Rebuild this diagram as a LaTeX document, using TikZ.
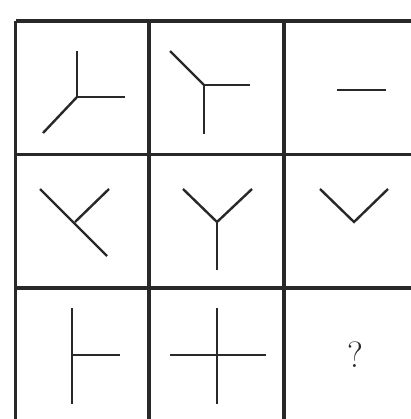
\documentclass[tikz,border=0pt]{standalone}
\usepackage{xcolor}
\usepackage{tikz}
\usetikzlibrary{positioning}
\definecolor{InkGrey}{RGB}{40,40,40}

\begin{document}
\begin{tikzpicture}[
    x=0.025cm, y=-0.025cm,
    gridline/.style={line width=2.2pt, InkGrey},
    stroke/.style={line width=1.7pt, InkGrey, line cap=butt},
    qmark/.style={font=\fontsize{26}{30}\selectfont, inner sep=0pt, InkGrey}
]
\useasboundingbox[fill=white] (0,0) rectangle (411,419);
% grid
\foreach \gx in {15.5,149,284} \draw[gridline] (\gx,21) -- (\gx,419);
\foreach \gy in {21,154.5,288} \draw[gridline] (15.5,\gy) -- (411,\gy);
% row 1
\coordinate (a) at (77,97);
\draw[stroke] (a) -- (77,51); \draw[stroke] (a) -- (125,97); \draw[stroke] (a) -- (43,133);
\coordinate (b) at (204,85);
\draw[stroke] (b) -- (170,51); \draw[stroke] (b) -- (250,85); \draw[stroke] (b) -- (204,134);
\draw[stroke] (337,90) -- (386,90);
% row 2
\coordinate (c) at (75,222);
\draw[stroke] (40,189) -- (107,256); \draw[stroke] (c) -- (109,189);
\coordinate (d) at (217,222);
\draw[stroke] (d) -- (183,189); \draw[stroke] (d) -- (252,189); \draw[stroke] (d) -- (217,270);
\coordinate (e) at (354,222);
\draw[stroke] (320,189) -- (e) -- (388,189);
% row 3
\coordinate (f) at (72,355);
\draw[stroke] (72,308) -- (72,404); \draw[stroke] (f) -- (120,355);
\coordinate (g) at (217,355);
\draw[stroke] (g |- 0,308) -- (g |- 0,404); \draw[stroke] (170,355) -- (266,355);
\node[qmark] (q) at (355,355) {?};
\end{tikzpicture}
\end{document}
